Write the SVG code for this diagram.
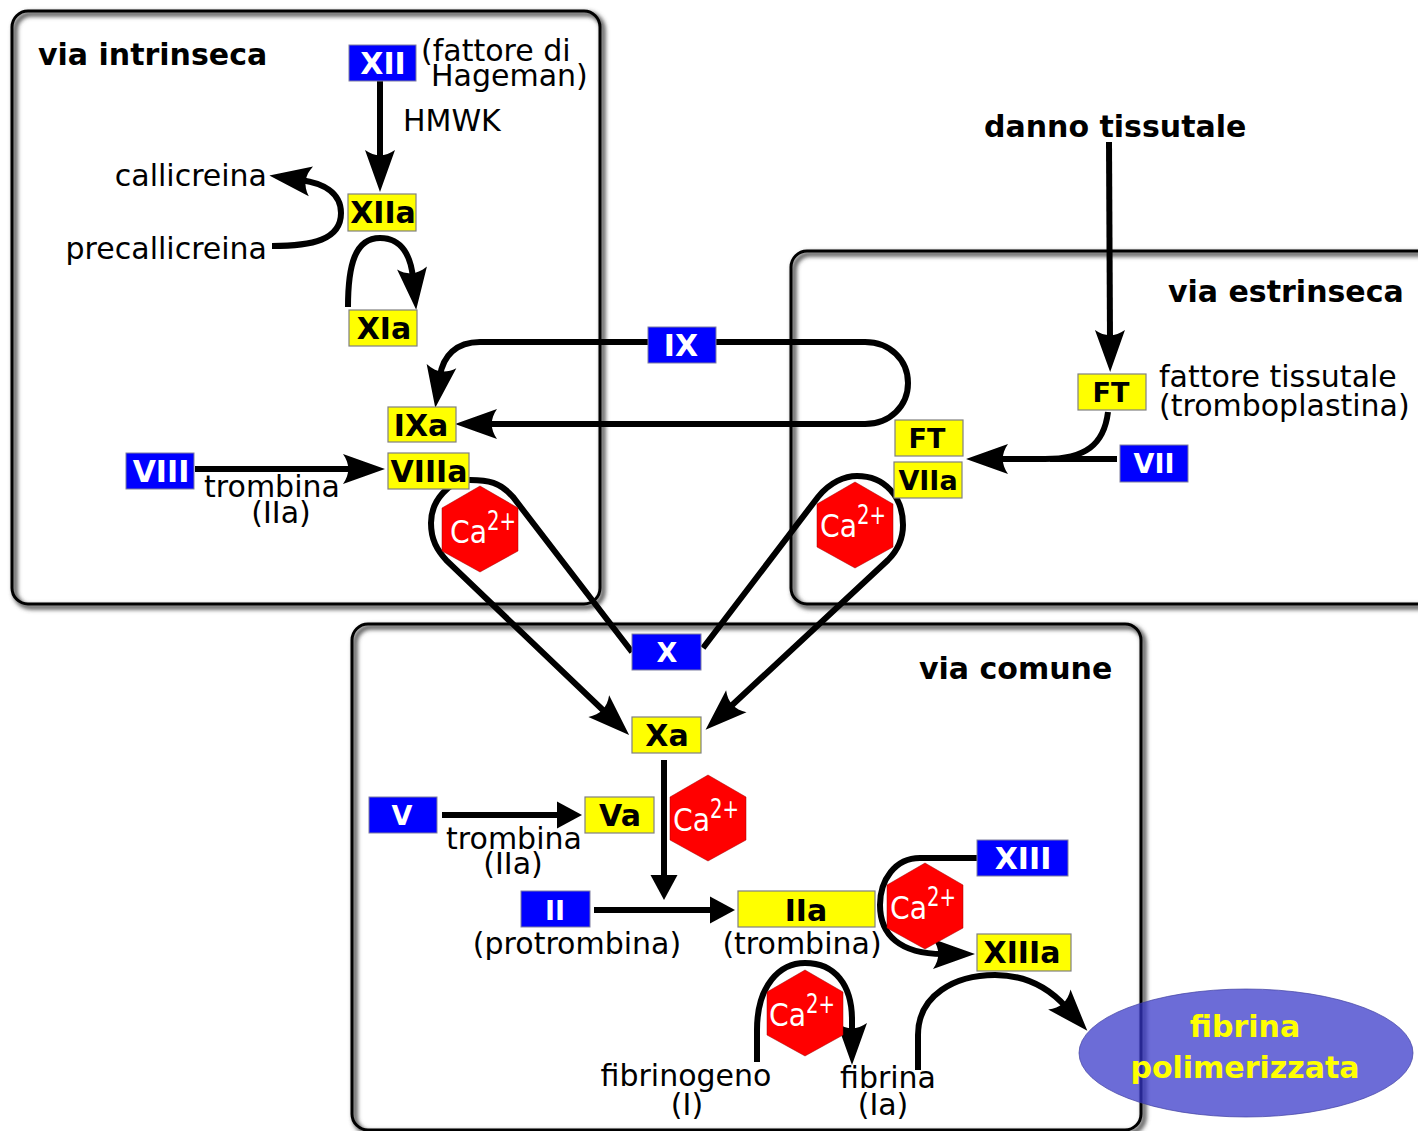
<svg xmlns="http://www.w3.org/2000/svg" width="1418" height="1131" viewBox="0 0 1418 1131">
<style>
text{font-family:"DejaVu Sans",sans-serif;fill:#000}
.t{font-size:30px}
.m{text-anchor:middle}
.e{text-anchor:end}
.b{font-size:30px;font-weight:bold}
.bl{fill:#0000ff;stroke:#7f7f9f;stroke-width:1}
.ye{fill:#ffff00;stroke:#808080;stroke-width:1.2}
.wt{fill:#fff;font-size:30px;font-weight:bold;text-anchor:middle}
.bt{fill:#000;font-size:30px;font-weight:bold;text-anchor:middle}
.sm{font-size:27px}
.hex{fill:#ff0000;stroke:#a00000;stroke-width:.5}
.ca{fill:#fff;font-size:32px}
.ca .sup{font-size:27px}
.pan{fill:none;stroke:#000;stroke-width:3}
.sh{fill:none;stroke:#555;stroke-width:5;filter:url(#blur)}
.c{fill:none;stroke:#000;stroke-width:6}
.a{marker-end:url(#arr)}
.s{marker-end:url(#arrs)}
</style>
<defs>
<filter id="blur" x="-5%" y="-5%" width="110%" height="110%"><feGaussianBlur stdDeviation="2"/></filter>
<marker id="arr" markerUnits="userSpaceOnUse" viewBox="-12 -16 48 32" markerWidth="48" markerHeight="32" refX="0" refY="0" orient="auto"><path d="M32,0 L-10,-15 C-3,-5 -3,5 -10,15 Z" fill="#000"/></marker>
<marker id="arrs" markerUnits="userSpaceOnUse" viewBox="-2 -15 30 30" markerWidth="30" markerHeight="30" refX="0" refY="0" orient="auto"><path d="M25,0 L0,-13.5 L0,13.5 Z" fill="#000"/></marker>
<polygon id="h" points="0,-43 38,-21 38,22 0,43 -38,22 -38,-21"/>
</defs>
<rect width="1418" height="1131" fill="#fff"/>
<g id="panels">
<rect class="sh" x="15" y="14" width="588" height="593" rx="16"/>
<rect class="sh" x="794" y="254" width="660" height="353" rx="16"/>
<rect class="sh" x="355" y="627" width="789" height="506" rx="16"/>
<rect class="pan" x="12" y="11" width="588" height="593" rx="16"/>
<rect class="pan" x="791" y="251" width="660" height="353" rx="16"/>
<rect class="pan" x="352" y="624" width="789" height="506" rx="16"/>
</g>
<g id="connectors">
<path class="c a" d="M380,81 L380,160"/>
<path class="c a" d="M272,246 C312,246 341,240 341,213 C341,192 322,183 301,180"/>
<path class="c a" d="M348,307 C348,265 355,238 380,238 C403,238 411,258 413,278"/>
<path class="c a" d="M648,342 L480,342 C456,342 443,356 440,376"/>
<path class="c a" d="M716,342 L865,342 C890,342 908,360 908,383 C908,406 890,424 865,424 L487,424"/>
<path class="c a" d="M195,469 L353,469"/>
<path class="c a" d="M632,652 L513,497 C500,482 488,480 470,480 C450,480 431,500 431,523 C431,540 437,550 447,561 L606,713"/>
<path class="c a" d="M703,648 L818,497 C830,482 845,476 857,476 C885,476 903,497 903,525 C903,540 897,551 888,560 L729,708"/>
<path class="c a" d="M1109,142 L1110,340"/>
<path class="c a" d="M1108,412 C1104,445 1085,459 1045,459 L998,459"/>
<path class="c" d="M1117,459 L1050,459"/>
<path class="c s" d="M664,760 L664,875"/>
<path class="c s" d="M594,910 L710,910"/>
<path class="c s" d="M442,815 L557,815"/>
<path class="c a" d="M977,858 L920,858 C895,858 880,880 880,905 C880,935 900,954 943,954"/>
<path class="c a" d="M757,1062 L757,1030 C757,985 780,963 805,963 C835,963 852,985 852,1020 L852,1033"/>
<path class="c a" d="M918,1070 L918,1035 C918,995 955,975 995,975 C1025,975 1049,988 1066,1007"/>
</g>
<g id="labels">
<text class="b" x="38" y="64.5">via intrinseca</text>
<text class="b" x="1168" y="301.5">via estrinseca</text>
<text class="b" x="919" y="678.5">via comune</text>
<text class="b" x="984" y="136.5">danno tissutale</text>
<text class="t" x="421" y="60.5">(fattore di</text>
<text class="t" x="431" y="85.5">Hageman)</text>
<text class="t" x="403" y="130.5">HMWK</text>
<text class="t e" x="267" y="185.5">callicreina</text>
<text class="t e" x="267" y="258.5">precallicreina</text>
<text class="t m" x="272" y="496.5">trombina</text>
<text class="t m" x="281" y="522.5">(IIa)</text>
<text class="t" x="1159" y="386.5">fattore tissutale</text>
<text class="t" x="1159" y="415.5">(tromboplastina)</text>
<text class="t m" x="514" y="848.5">trombina</text>
<text class="t m" x="513" y="873.5">(IIa)</text>
<text class="t m" x="577" y="953.5">(protrombina)</text>
<text class="t m" x="802" y="953.5">(trombina)</text>
<text class="t m" x="686" y="1085.5">fibrinogeno</text>
<text class="t m" x="687" y="1114.5">(I)</text>
<text class="t m" x="888" y="1087.5">fibrina</text>
<text class="t m" x="883" y="1114.5">(Ia)</text>
</g>
<g id="n-xii"><rect class="bl" x="349" y="45" width="67" height="36"/><text class="wt" x="383" y="74">XII</text></g>
<g id="n-xiia"><rect class="ye" x="348" y="194" width="68" height="37"/><text class="bt" x="383" y="223">XIIa</text></g>
<g id="n-xia"><rect class="ye" x="349" y="310" width="68" height="36"/><text class="bt" x="384" y="339">XIa</text></g>
<g id="n-ix"><rect class="bl" x="648" y="327" width="68" height="36"/><text class="wt" x="681" y="356">IX</text></g>
<g id="n-ixa"><rect class="ye" x="388" y="407" width="68" height="35"/><text class="bt" x="421" y="436">IXa</text></g>
<g id="n-viii"><rect class="bl" x="126" y="453" width="68" height="36"/><text class="wt" x="161" y="482">VIII</text></g>
<g id="n-viiia"><rect class="ye" x="388" y="453" width="81" height="36"/><text class="bt" x="429" y="482">VIIIa</text></g>
<g id="n-ft1"><rect class="ye" x="1078" y="374" width="68" height="36"/><text class="bt sm" x="1111" y="402">FT</text></g>
<g id="n-ft2"><rect class="ye" x="895" y="420" width="68" height="36"/><text class="bt sm" x="927" y="448">FT</text></g>
<g id="n-viia"><rect class="ye" x="894" y="462" width="68" height="36"/><text class="bt sm" x="928" y="490">VIIa</text></g>
<g id="n-vii"><rect class="bl" x="1120" y="445" width="68" height="37"/><text class="wt sm" x="1154" y="473">VII</text></g>
<g id="n-x"><rect class="bl" x="632" y="634" width="69" height="36"/><text class="wt sm" x="667" y="662">X</text></g>
<g id="n-xa"><rect class="ye" x="632" y="717" width="69" height="36"/><text class="bt" x="667" y="746">Xa</text></g>
<g id="n-v"><rect class="bl" x="369" y="797" width="68" height="36"/><text class="wt sm" x="402" y="825">V</text></g>
<g id="n-va"><rect class="ye" x="585" y="797" width="69" height="36"/><text class="bt" x="620" y="826">Va</text></g>
<g id="n-ii"><rect class="bl" x="521" y="891" width="69" height="36"/><text class="wt sm" x="555" y="920">II</text></g>
<g id="n-iia"><rect class="ye" x="738" y="891" width="137" height="36"/><text class="bt" x="806" y="921">IIa</text></g>
<g id="n-xiii"><rect class="bl" x="977" y="840" width="91" height="36"/><text class="wt" x="1023" y="869">XIII</text></g>
<g id="n-xiiia"><rect class="ye" x="977" y="934" width="94" height="37"/><text class="bt" x="1022" y="963">XIIIa</text></g>
<g id="n-ca1"><use href="#h" class="hex" x="480" y="529"/><text class="ca" x="450" y="543"><tspan textLength="37" lengthAdjust="spacingAndGlyphs">Ca</tspan><tspan class="sup" dy="-13" textLength="29" lengthAdjust="spacingAndGlyphs">2+</tspan></text></g>
<g id="n-ca2"><use href="#h" class="hex" x="855" y="525"/><text class="ca" x="820" y="537"><tspan textLength="37" lengthAdjust="spacingAndGlyphs">Ca</tspan><tspan class="sup" dy="-13" textLength="29" lengthAdjust="spacingAndGlyphs">2+</tspan></text></g>
<g id="n-ca3"><use href="#h" class="hex" x="708" y="818"/><text class="ca" x="673" y="831"><tspan textLength="37" lengthAdjust="spacingAndGlyphs">Ca</tspan><tspan class="sup" dy="-13" textLength="29" lengthAdjust="spacingAndGlyphs">2+</tspan></text></g>
<g id="n-ca4"><use href="#h" class="hex" x="925" y="906"/><text class="ca" x="890" y="919"><tspan textLength="37" lengthAdjust="spacingAndGlyphs">Ca</tspan><tspan class="sup" dy="-13" textLength="29" lengthAdjust="spacingAndGlyphs">2+</tspan></text></g>
<g id="n-ca5"><use href="#h" class="hex" x="805" y="1013"/><text class="ca" x="769" y="1026"><tspan textLength="37" lengthAdjust="spacingAndGlyphs">Ca</tspan><tspan class="sup" dy="-13" textLength="29" lengthAdjust="spacingAndGlyphs">2+</tspan></text></g>
<g id="n-fibrina"><ellipse cx="1246" cy="1053" rx="167" ry="64" fill="#3636c8" fill-opacity=".73" stroke="#4040a0" stroke-width=".7"/><text class="b m" x="1245" y="1037" style="fill:#ffff00">fibrina</text><text class="b m" x="1245" y="1078" style="fill:#ffff00">polimerizzata</text></g>
</svg>
